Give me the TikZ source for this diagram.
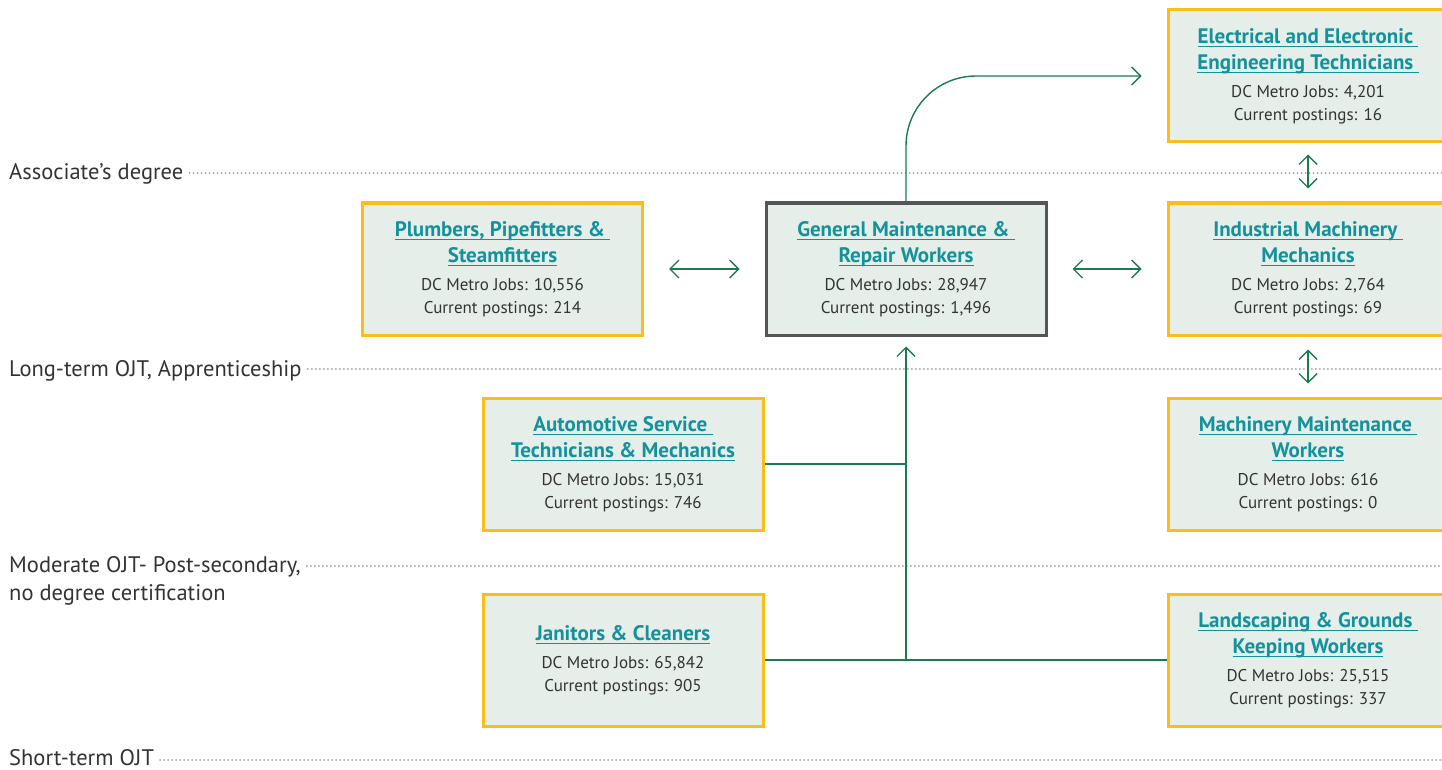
\documentclass[tikz,border=0pt]{standalone}
\usepackage{fontspec}
\setmainfont{PT Sans}
\usepackage{tikz}
\usetikzlibrary{shapes,arrows.meta,positioning}
\definecolor{boxfill}{HTML}{E6EEEA}
\definecolor{boxyellow}{HTML}{FBBD19}
\definecolor{boxgray}{HTML}{555555}
\definecolor{titleteal}{HTML}{13929B}
\definecolor{bodygray}{HTML}{333333}
\definecolor{linkgreen}{HTML}{1B7A50}
\definecolor{dotgray}{HTML}{A0A0A0}
\tikzset{job box/.style={draw=boxyellow, fill=boxfill, line width=3pt, rectangle, align=center, minimum width=280pt, minimum height=132pt, text=bodygray, font=\fontsize{17}{23}\selectfont}}
\tikzset{main job box/.style={job box, draw=boxgray}}
\tikzset{level/.style={anchor=base west, inner sep=0pt, text=bodygray, font=\fontsize{22.5}{28}\selectfont}}
\tikzset{level line/.style={draw=dotgray, line width=2pt, line cap=round, dash pattern=on 0pt off 4pt, shorten <=6pt}}
\tikzset{link/.style={draw=linkgreen, line width=1.4pt}}
\tikzset{tip/.style={-{Straight Barb[length=9pt,width=18pt]}}}
\tikzset{both tips/.style={{Straight Barb[length=9pt,width=18pt]}-{Straight Barb[length=9pt,width=18pt]}}}
\newcommand{\titleline}[1]{{\fontsize{21}{26}\selectfont\bfseries\color{titleteal}\setbox0\hbox{#1}\rlap{\rule[-4pt]{\wd0}{1.3pt}}\box0}}

\begin{document}
\begin{tikzpicture}[x=1pt, y=-1pt]
\useasboundingbox (0,0) rectangle (1442,770);
% levels
\node[level] (assoc) at (9,180) {Associate's degree};
\node[level] (longojt) at (9,376) {Long-term OJT, Apprenticeship};
\node[level] (modojt) at (9,572) {Moderate OJT- Post-secondary,};
\node[level] (modojtb) at (9,600) {no degree certification};
\node[level] (shortojt) at (9,765) {Short-term OJT};
\coordinate (assocend) at (1442,173);
\coordinate (longojtend) at (1442,369);
\coordinate (modojtend) at (1442,566);
\coordinate (shortojtend) at (1442,760);
\draw[level line] (assoc.east |- assocend) -- (assocend);
\draw[level line] (longojt.east |- longojtend) -- (longojtend);
\draw[level line] (modojt.east |- modojtend) -- (modojtend);
\draw[level line] (shortojt.east |- shortojtend) -- (shortojtend);
% jobs
\node[main job box] (genmaint) at (906,269) {\titleline{General Maintenance \&\ }\\[3pt]\titleline{Repair Workers}\\[5pt]DC Metro Jobs: 28,947\\Current postings: 1,496};
\node[job box] (plumbers) at (502.5,269) {\titleline{Plumbers, Pipefitters \&\ }\\[3pt]\titleline{Steamfitters}\\[5pt]DC Metro Jobs: 10,556\\Current postings: 214};
\node[job box] (electech) at (1308,76) {\titleline{Electrical and Electronic\ }\\[3pt]\titleline{Engineering Technicians\ }\\[5pt]DC Metro Jobs: 4,201\\Current postings: 16};
\node[job box] (indmech) at (1308,269) {\titleline{Industrial Machinery\ }\\[3pt]\titleline{Mechanics}\\[5pt]DC Metro Jobs: 2,764\\Current postings: 69};
\node[job box] (machmaint) at (1308,464) {\titleline{Machinery Maintenance\ }\\[3pt]\titleline{Workers}\\[5pt]DC Metro Jobs: 616\\Current postings: 0};
\node[job box] (automech) at (623,464) {\titleline{Automotive Service\ }\\[3pt]\titleline{Technicians \& Mechanics}\\[5pt]DC Metro Jobs: 15,031\\Current postings: 746};
\node[job box] (janitors) at (623,660) {\titleline{Janitors \& Cleaners}\\[5pt]DC Metro Jobs: 65,842\\Current postings: 905};
\node[job box] (landscape) at (1308,660) {\titleline{Landscaping \& Grounds\ }\\[3pt]\titleline{Keeping Workers}\\[5pt]DC Metro Jobs: 25,515\\Current postings: 337};
% links
\draw[link, both tips, shorten <=25pt, shorten >=25pt] (plumbers.east) -- (genmaint.west);
\draw[link, both tips, shorten <=25pt, shorten >=25pt] (genmaint.east) -- (indmech.west);
\draw[link, both tips, shorten <=11pt, shorten >=13pt] (electech.south) -- (indmech.north);
\draw[link, both tips, shorten <=13pt, shorten >=13pt] (indmech.south) -- (machmaint.north);
\draw[link, tip, rounded corners=70pt, shorten >=25pt] (genmaint.north) |- (electech.west);
\draw[link] (automech.east) -- (automech.east -| genmaint.south);
\draw[link] (janitors.east) -- (landscape.west);
\draw[link, tip, shorten >=10pt] (janitors.east -| genmaint.south) -- (genmaint.south);
\end{tikzpicture}
\end{document}
